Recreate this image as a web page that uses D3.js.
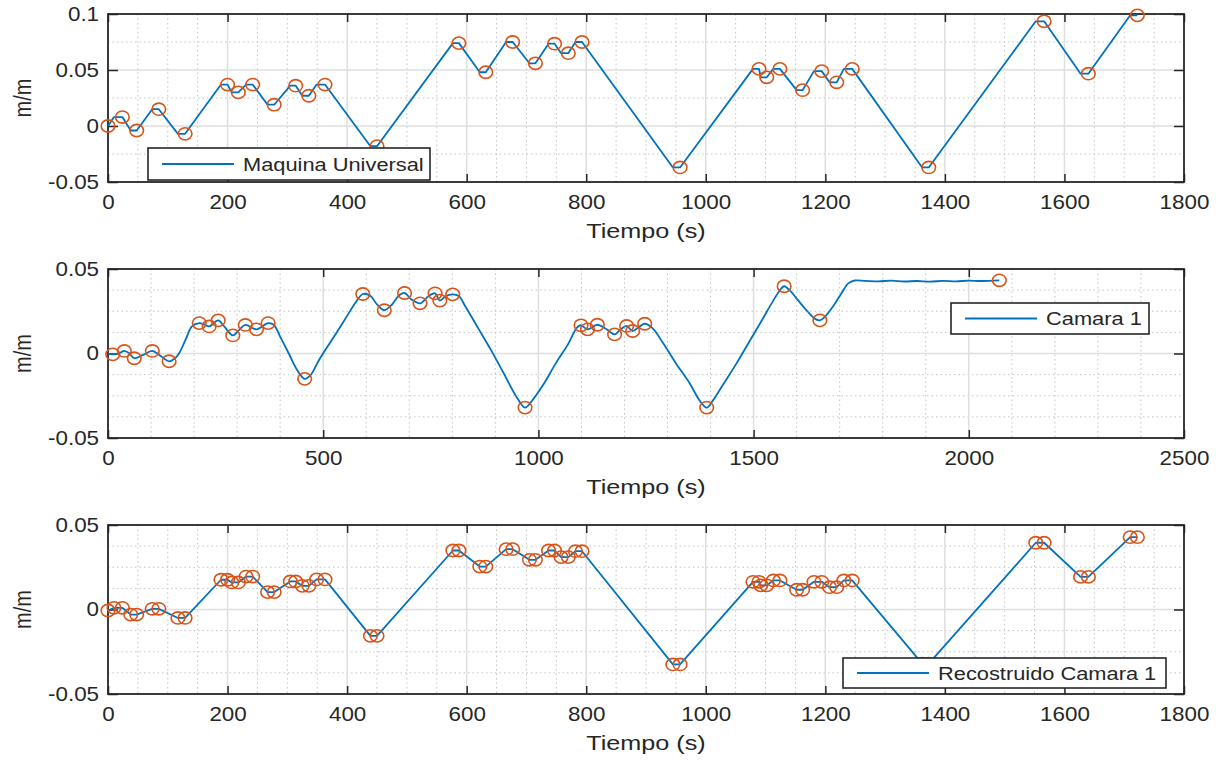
<!DOCTYPE html>
<html lang="es">
<head>
<meta charset="utf-8">
<title>Deformacion</title>
<script src="https://cdn.jsdelivr.net/npm/d3@7"></script>
<style>
  body { margin: 0; background: #fff; }
  svg text { font-family: "Liberation Sans", Arial, sans-serif; fill: #262626; }
  .grid-major line { stroke: #dedede; stroke-width: 1.5; }
  .grid-minor line { stroke: #c4c4c4; stroke-width: 1; stroke-dasharray: 1.5 3; }
  .axis path { display: none; }
  .axis line { stroke: #262626; stroke-width: 1.5; }
</style>
</head>
<body>
<script>
// ---- data ----
// hold intervals of the load steps (s)
var holdStart = [10, 38, 74, 117, 189, 207, 231, 267, 305, 325, 349, 439, 577, 622, 666, 705, 737, 758, 782, 945,
                 1079, 1092, 1113, 1152, 1181, 1207, 1231, 1362, 1552, 1627, 1710];
var holdEnd   = [24, 48, 85, 129, 200, 218, 242, 278, 314, 336, 363, 450, 587, 632, 677, 715, 747, 770, 793, 957,
                 1089, 1102, 1124, 1162, 1194, 1219, 1245, 1373, 1566, 1640, 1722];

// Maquina Universal (m/m)
var muStart = 0;
var muValues = [0.008, -0.004, 0.015, -0.007, 0.037, 0.030, 0.037, 0.019, 0.036, 0.027, 0.037, -0.018,
                0.074, 0.048, 0.075, 0.056, 0.0735, 0.065, 0.075, -0.037,
                0.051, 0.0435, 0.051, 0.032, 0.049, 0.039, 0.051, -0.037, 0.0935, 0.0467, 0.0988];

// Recostruido Camara 1 (m/m)
var recStart = -0.0006;
var recValues = [0.001, -0.003, 0.0004, -0.005, 0.0176, 0.016, 0.0195, 0.0103, 0.0166, 0.014, 0.0178, -0.0156,
                 0.0349, 0.0254, 0.0357, 0.0294, 0.0349, 0.031, 0.0345, -0.0325,
                 0.0164, 0.0143, 0.0172, 0.0117, 0.0164, 0.0132, 0.0172, -0.032, 0.0395, 0.0193, 0.0428];

// Camara 1 curve (s, m/m)
var camTime = [0, 11, 25, 38, 50, 61, 80, 103, 120, 142, 155, 165, 180, 195, 212, 225, 235, 256, 270, 290,
               305, 319, 345, 372, 385, 400, 420, 440, 457, 470, 490, 520, 550, 575, 592, 610, 625, 642,
               660, 675, 689, 705, 725, 745, 760, 771, 785, 801, 815, 830, 860, 890, 920, 950, 969, 985,
               1010, 1040, 1070, 1090, 1099, 1114, 1137, 1160, 1177, 1190, 1205, 1219, 1235, 1247, 1265,
               1290, 1320, 1350, 1375, 1391, 1405, 1430, 1460, 1490, 1520, 1545, 1560, 1571, 1585, 1605,
               1625, 1643, 1654, 1665, 1685, 1705, 1720, 1735, 1760, 1790, 1820, 1850, 1880, 1910, 1940,
               1970, 2000, 2030, 2071];
var camValue = [0, -0.0005, 0, 0.0015, 0, -0.0028, -0.001, 0.0015, -0.001, -0.0046, -0.003, 0, 0.008, 0.016,
                0.018, 0.017, 0.016, 0.0196, 0.016, 0.0107, 0.014, 0.0169, 0.0143, 0.018, 0.017, 0.010, 0,
                -0.010, -0.015, -0.013, -0.004, 0.008, 0.020, 0.030, 0.0352, 0.034, 0.029, 0.0256, 0.029,
                0.034, 0.0358, 0.032, 0.0297, 0.034, 0.0356, 0.0313, 0.034, 0.035, 0.034, 0.028, 0.015,
                0.002, -0.012, -0.026, -0.032, -0.028, -0.019, -0.006, 0.006, 0.0155, 0.0167, 0.0143,
                0.017, 0.014, 0.0113, 0.014, 0.0163, 0.0133, 0.016, 0.0176, 0.015, 0.006, -0.006, -0.017,
                -0.028, -0.032, -0.028, -0.018, -0.006, 0.007, 0.020, 0.031, 0.037, 0.0398, 0.037, 0.031,
                0.025, 0.0205, 0.0196, 0.0215, 0.028, 0.036, 0.0415, 0.0432, 0.0430, 0.0427, 0.0431,
                0.0426, 0.0429, 0.0425, 0.0430, 0.0427, 0.0431, 0.0429, 0.0433];
var camMarkTime = [11, 38, 61, 103, 142, 212, 235, 256, 290, 319, 345, 372, 457, 592, 642, 689, 725, 760, 771,
                   801, 969, 1099, 1114, 1137, 1177, 1205, 1219, 1247, 1391, 1571, 1654, 2071];
var camMarkValue = [-0.0005, 0.0015, -0.0028, 0.0015, -0.0046, 0.018, 0.016, 0.0196, 0.0107, 0.0169, 0.0143,
                    0.018, -0.015, 0.0352, 0.0256, 0.0358, 0.0297, 0.0356, 0.0313, 0.035, -0.032, 0.0167,
                    0.0143, 0.017, 0.0113, 0.0163, 0.0133, 0.0176, -0.032, 0.0398, 0.0196, 0.0433];

// axes ticks
var xTicks1800 = [0, 200, 400, 600, 800, 1000, 1200, 1400, 1600, 1800];
var xTicks2500 = [0, 500, 1000, 1500, 2000, 2500];
var yTicksTop = [-0.05, 0, 0.05, 0.1];
var yTicksSmall = [-0.05, 0, 0.05];
var legendNames = ["Maquina Universal", "Camara 1", "Recostruido Camara 1"];

var BLUE = "#0072BD", ORANGE = "#D95319";

var svg = d3.select("body").append("svg").attr("width", 1225).attr("height", 763);

// build point lists
var muLine = [{t: 0, v: muStart}], muMarks = [{t: 0, v: muStart}];
var recLine = [{t: 0, v: recStart}];
holdStart.forEach(function (s, i) {
  muLine.push({t: s, v: muValues[i]}, {t: holdEnd[i], v: muValues[i]});
  muMarks.push({t: holdEnd[i], v: muValues[i]});
  recLine.push({t: s, v: recValues[i]}, {t: holdEnd[i], v: recValues[i]});
});
var camLine = camTime.map(function (t, i) { return {t: t, v: camValue[i]}; });
var camMarks = camMarkTime.map(function (t, i) { return {t: t, v: camMarkValue[i]}; });

function fmt(d) { return d === 0 ? "0" : String(+d.toFixed(3)); }

function panel(o) {
  var left = 108, right = 1184;
  var x = d3.scaleLinear().domain(o.xd).range([left, right]);
  var y = d3.scaleLinear().domain(o.yd).range([o.bottom, o.top]);
  var g = svg.append("g");

  // minor grid
  g.append("g").attr("class", "grid-minor")
    .selectAll("line").data(d3.range(o.xd[0], o.xd[1], o.xm).filter(function (v) { return v % o.xMajor !== 0; }))
    .join("line").attr("x1", x).attr("x2", x).attr("y1", o.top).attr("y2", o.bottom);
  g.append("g").attr("class", "grid-minor")
    .selectAll("line").data(d3.range(o.yd[0] + o.ym, o.yd[1] - 1e-9, o.ym).filter(function (v) {
      return o.yt.every(function (t) { return Math.abs(t - v) > 1e-9; });
    }))
    .join("line").attr("y1", y).attr("y2", y).attr("x1", left).attr("x2", right);
  // major grid
  g.append("g").attr("class", "grid-major")
    .selectAll("line").data(o.xt.slice(1, -1))
    .join("line").attr("x1", x).attr("x2", x).attr("y1", o.top).attr("y2", o.bottom);
  g.append("g").attr("class", "grid-major")
    .selectAll("line").data(o.yt.slice(1, -1))
    .join("line").attr("y1", y).attr("y2", y).attr("x1", left).attr("x2", right);

  // axes
  var xb = g.append("g").attr("class", "axis").attr("transform", "translate(0," + o.bottom + ")")
    .call(d3.axisBottom(x).tickValues(o.xt).tickSizeInner(-8).tickSizeOuter(0).tickPadding(13).tickFormat(function (d) { return d; }));
  xb.selectAll("text").attr("font-size", 20).attr("transform", "scale(1.12,1)");
  g.append("g").attr("class", "axis").attr("transform", "translate(0," + o.top + ")")
    .call(d3.axisTop(x).tickValues(o.xt).tickSizeInner(-8).tickSizeOuter(0).tickFormat(""));
  var yl = g.append("g").attr("class", "axis").attr("transform", "translate(" + left + ",0)")
    .call(d3.axisLeft(y).tickValues(o.yt).tickSizeInner(-10).tickSizeOuter(0).tickPadding(8).tickFormat(fmt));
  yl.selectAll("text").attr("font-size", 20).attr("transform", "scale(1.12,1)");
  g.append("g").attr("class", "axis").attr("transform", "translate(" + right + ",0)")
    .call(d3.axisRight(y).tickValues(o.yt).tickSizeInner(-10).tickSizeOuter(0).tickFormat(""));

  g.append("rect").attr("x", left).attr("y", o.top).attr("width", right - left).attr("height", o.bottom - o.top)
    .attr("fill", "none").attr("stroke", "#262626").attr("stroke-width", 1.8);

  // labels
  g.append("text").attr("transform", "translate(646," + (o.bottom + 56) + ") scale(1.2,1)")
    .attr("text-anchor", "middle").attr("font-size", 21).text("Tiempo (s)");
  g.append("text").attr("transform", "translate(31," + ((o.top + o.bottom) / 2) + ") rotate(-90) scale(1,1.15)")
    .attr("text-anchor", "middle").attr("font-size", 20).text("m/m");

  // data
  var line = d3.line().x(function (d) { return x(d.t); }).y(function (d) { return y(d.v); });
  if (o.curve) line.curve(o.curve);
  g.append("path").datum(o.line).attr("d", line).attr("fill", "none")
    .attr("stroke", BLUE).attr("stroke-width", 1.8).attr("stroke-linejoin", "round");
  g.append("g").selectAll("ellipse").data(o.marks).join("ellipse")
    .attr("cx", function (d) { return x(d.t); }).attr("cy", function (d) { return y(d.v); })
    .attr("rx", 6.8).attr("ry", 6.1).attr("fill", "none").attr("stroke", ORANGE).attr("stroke-width", 1.6);

  // legend
  var L = o.legend;
  var lg = g.append("g");
  lg.append("rect").attr("x", L.x).attr("y", L.y).attr("width", L.w).attr("height", L.h)
    .attr("fill", "#fff").attr("stroke", "#262626").attr("stroke-width", 1.6);
  lg.append("line").attr("x1", L.x + 14).attr("x2", L.x + 86).attr("y1", L.y + L.h / 2).attr("y2", L.y + L.h / 2)
    .attr("stroke", BLUE).attr("stroke-width", 1.8);
  lg.append("text").attr("transform", "translate(" + (L.x + 95) + "," + (L.y + L.h / 2 + 6.5) + ") scale(1.18,1)")
    .attr("font-size", 18.5).text(L.name);
}

panel({xd: [0, 1800], yd: [-0.05, 0.1], xt: xTicks1800, yt: yTicksTop, xm: 50, xMajor: 200, ym: 0.025,
       top: 14, bottom: 182, line: muLine, marks: muMarks,
       legend: {x: 148, y: 148, w: 282, h: 32, name: legendNames[0]}});
panel({xd: [0, 2500], yd: [-0.05, 0.05], xt: xTicks2500, yt: yTicksSmall, xm: 100, xMajor: 500, ym: 0.0125,
       top: 269, bottom: 438, line: camLine, marks: camMarks, curve: d3.curveCatmullRom.alpha(0.5),
       legend: {x: 951, y: 303, w: 198, h: 31, name: legendNames[1]}});
panel({xd: [0, 1800], yd: [-0.05, 0.05], xt: xTicks1800, yt: yTicksSmall, xm: 50, xMajor: 200, ym: 0.0125,
       top: 525, bottom: 694, line: recLine, marks: recLine,
       legend: {x: 843, y: 658, w: 323, h: 30, name: legendNames[2]}});
</script>
</body>
</html>
